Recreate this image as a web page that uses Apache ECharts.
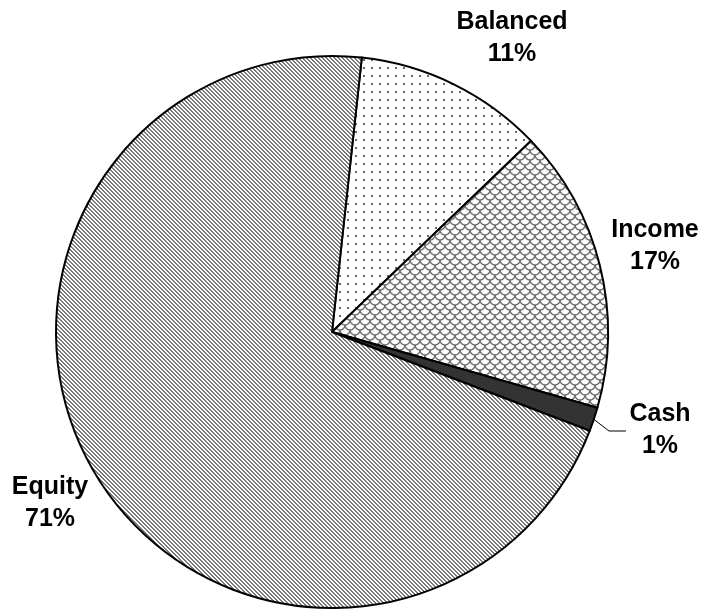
<!DOCTYPE html>
<html>
<head>
<meta charset="utf-8">
<script src="https://cdn.jsdelivr.net/npm/echarts@6/dist/echarts.min.js"></script>
<style>html,body{margin:0;padding:0;background:#fff}#c{width:707px;height:611px}</style>
</head>
<body>
<div id="c"></div>
<script>
const categories = ['Balanced', 'Income', 'Cash', 'Equity'];
const shares = [11.1, 16.6, 1.4, 70.9];
const percentLabels = ['11%', '17%', '1%', '71%'];

// label anchor positions (layout only)
const labelAnchors = [[512, 38], [655, 246], [660, 430], [50, 503]];

function tile(w, h, draw) {
  const c = document.createElement('canvas');
  c.width = w; c.height = h;
  const g = c.getContext('2d');
  g.fillStyle = '#fff'; g.fillRect(0, 0, w, h);
  draw(g, w, h);
  return c;
}
const stripes = tile(4, 4, (g) => {
  g.fillStyle = '#7a7a7a';
  for (let y = 0; y < 4; y++) for (let x = 0; x < 4; x++) {
    if ((((x - y) % 4) + 4) % 4 < 2) g.fillRect(x, y, 1, 1);
  }
});
const dots = tile(8, 8, (g) => {
  g.fillStyle = '#666';
  g.fillRect(3, 3, 2, 2);
});
const scales = tile(10, 10, (g) => {
  g.strokeStyle = '#707070';
  g.lineWidth = 1.5;
  [[5, 0], [0, 5], [10, 5], [5, 10], [0, -5], [10, -5]].forEach(([cx, cy]) => {
    g.beginPath(); g.arc(cx, cy, 5, 0, Math.PI); g.stroke();
  });
});
const fills = [
  { image: dots, repeat: 'repeat' },
  { image: scales, repeat: 'repeat' },
  '#333333',
  { image: stripes, repeat: 'repeat' }
];

const chart = echarts.init(document.getElementById('c'));
chart.setOption({
  animation: false,
  series: [{
    type: 'pie',
    center: [332, 332],
    radius: 276,
    startAngle: 83.8,
    clockwise: true,
    silent: true,
    itemStyle: { borderColor: '#000', borderWidth: 2 },
    label: {
      show: true,
      position: 'outside',
      fontFamily: 'Liberation Sans, Arial, sans-serif',
      fontWeight: 'bold',
      fontSize: 25,
      lineHeight: 32,
      color: '#000',
      align: 'center',
      overflow: 'none',
      width: 200,
      formatter: (p) => p.name + '\n' + percentLabels[p.dataIndex]
    },
    labelLine: { show: false },
    labelLayout: (p) => {
      const a = labelAnchors[p.dataIndex];
      const out = { x: a[0], y: a[1], align: 'center', verticalAlign: 'middle' };
      if (p.dataIndex === 2 && p.labelLinePoints) {
        const s = p.labelLinePoints[0];
        out.labelLinePoints = [s, [609, 431], [626, 431]];
      }
      return out;
    },
    data: categories.map((n, i) => ({
      name: n,
      value: shares[i],
      itemStyle: { color: fills[i] },
      labelLine: i === 2 ? { show: true, length: 10, length2: 15, lineStyle: { color: '#000', width: 1 } } : { show: false }
    }))
  }]
});
</script>
</body>
</html>
